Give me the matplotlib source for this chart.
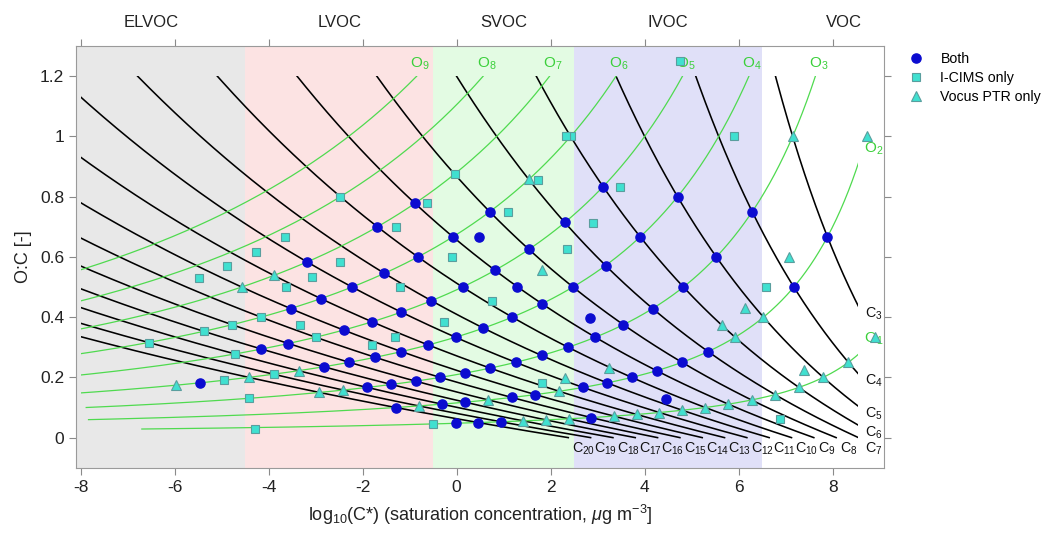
import numpy as np
import matplotlib
matplotlib.use("Agg")
import matplotlib.pyplot as plt
from matplotlib.patches import Rectangle
from matplotlib.lines import Line2D

plt.rcParams['font.family'] = ['Liberation Sans', 'DejaVu Sans']
plt.rcParams['mathtext.fontset'] = 'custom'
plt.rcParams['mathtext.rm'] = 'Liberation Sans'
plt.rcParams['mathtext.it'] = 'Liberation Sans:italic'
plt.rcParams['mathtext.bf'] = 'Liberation Sans:bold'
plt.rcParams['axes.unicode_minus'] = False

# ---- volatility classes -------------------------------------------------
class_names = ['ELVOC', 'LVOC', 'SVOC', 'IVOC', 'VOC']
class_edges = [-8.5, -4.5, -0.5, 2.5, 6.5, 10.0]
class_colors = ['#e8e8e8', '#fce3e3', '#e3fbe3', '#e0e0f8', '#ffffff']

# ---- 2D-VBS parameterisation (Stolzenburg et al., 2018) -----------------
N_C0, B_C, B_O, B_CO = 25.0, 0.475, 0.2, 0.9
LOGC_MIN, LOGC_MAX, OC_MAX = -8.0, 8.55, 1.2

carbon_numbers = list(range(3, 21))
oxygen_numbers = [1, 2, 3, 4, 5, 6, 7, 8, 9]
oxygen_cmax = [35, 33.5, 30, 35, 35, 35, 35, 35, 35]


def log_cstar(nc, no):
    nc = np.asarray(nc, float)
    no = np.asarray(no, float)
    return (N_C0 - nc) * B_C - no * B_O - 2.0 * nc * no / (nc + no) * B_CO


# ---- identified compounds: (nC, nO) on the grid --------------------------
both_nc = [6, 5, 9, 8, 4, 7, 10, 3, 6, 9, 8, 5, 10, 12, 7, 9, 11,
           4, 6, 8, 10, 12, 13, 11, 9, 14, 7, 12, 10, 13, 8, 11, 14,
           12, 9, 16, 13, 10, 17, 14, 7, 11, 15, 8, 16, 12, 17, 13, 9,
           14, 15, 10, 16, 22, 11, 17, 12, 18, 14, 15, 17, 18, 20,
           15, 19, 20, 21]
both_no = [5, 4, 7, 6, 3, 5, 7, 2, 4, 6, 5, 3, 6, 7, 4, 5, 6,
           2, 3, 4, 5, 6, 6, 5, 4, 6, 3, 5, 4, 5, 3, 4, 5,
           4, 3, 5, 4, 3, 5, 4, 2, 3, 4, 2, 4, 3, 4, 3, 2,
           3, 3, 2, 3, 4, 2, 3, 2, 3, 2, 2, 2, 2, 2,
           1, 1, 1, 1]

cims_nc = [6, 8, 10, 15, 16, 17, 15, 19, 18, 19, 21, 23, 22]
cims_no = [6, 7, 8, 6, 6, 6, 5, 6, 5, 4, 4, 3, 1]

ptr_nc = [3, 2, 7, 13, 14, 5, 3, 6, 18, 20, 23, 19, 13, 20, 16, 19,
          4, 5, 6, 7, 8, 9, 10, 11, 12, 13, 14, 16, 17, 18]
ptr_no = [3, 2, 6, 7, 7, 2, 1, 2, 4, 4, 4, 3, 2, 3, 2, 2,
          1, 1, 1, 1, 1, 1, 1, 1, 1, 1, 1, 1, 1, 1]

# ---- compounds away from the grid intersections (log10 C*, O:C) ---------
both_extra_logc = [0.48, 1.28, 2.84, 4.45]
both_extra_oc = [0.667, 0.500, 0.396, 0.128]

cims_extra_logc = [4.75, 2.33, 5.90, 1.72, 3.47, -0.63, 1.09, 2.91, -1.29,
                   -3.66, -4.28, 2.35, -0.09, -2.49, -4.88, -3.08, -5.49,
                   -3.64, -1.20, 6.59, 0.76, -0.28, -3.34, -1.31, -1.80,
                   1.82, 6.87, -4.30]
cims_extra_oc = [1.250, 1.000, 1.000, 0.857, 0.833, 0.778, 0.750, 0.714, 0.700,
                 0.667, 0.615, 0.625, 0.600, 0.583, 0.571, 0.534, 0.531,
                 0.500, 0.500, 0.500, 0.454, 0.383, 0.374, 0.333, 0.309,
                 0.182, 0.063, 0.027]

ptr_extra_logc = [1.81, 7.07, 6.13, 5.64, 7.39, 3.25, 2.31]
ptr_extra_oc = [0.556, 0.600, 0.429, 0.374, 0.225, 0.230, 0.198]

# ---- styles -------------------------------------------------------------
GREEN = '#4fda4f'
GREEN_TXT = '#3bd03b'
BLUE = '#0b0bd0'
TURQ = '#40e0d0'
TURQ_EDGE = '#5a9e9e'

fig = plt.figure(figsize=(10.49, 5.42), dpi=100)
ax = fig.add_axes([0.0725, 0.137, 0.7705, 0.778])
ax.set_xlim(-8.1, 9.1)
ax.set_ylim(-0.1, 1.3)

for lo, hi, col in zip(class_edges[:-1], class_edges[1:], class_colors):
    ax.axvspan(lo, hi, color=col, lw=0, zorder=0.3)
for lo, hi, name in zip(class_edges[:-1], class_edges[1:], class_names):
    ax.text((lo + hi) / 2, 1.378, name, ha='center', va='center',
            fontsize=12, color='#222222', clip_on=False)

clip_box = Rectangle((LOGC_MIN, -1.0), LOGC_MAX - LOGC_MIN, 1.0 + OC_MAX + 0.001,
                     transform=ax.transData, visible=False)
ax.add_patch(clip_box)

# carbon-number isopleths
for nc in carbon_numbers:
    no = np.linspace(0.0, OC_MAX * nc, 3000)
    x = log_cstar(nc, no)
    y = no / nc
    ln, = ax.plot(x, y, color='black', lw=1.15, zorder=2)
    ln.set_clip_path(clip_box)
    inside = (x <= LOGC_MAX) & (x >= LOGC_MIN)
    i_end = np.argmax(inside)
    if x[0] > LOGC_MAX:
        lx, ly = LOGC_MAX + 0.13, y[i_end] - 0.024
    elif nc == 7:
        lx, ly = LOGC_MAX + 0.13, y[i_end] - 0.036
    else:
        lx, ly = x[0] + 0.08, y[i_end] - 0.037
    ax.text(lx, ly, 'C$_{%d}$' % nc, fontsize=10.3, ha='left', va='center',
            color='#111111', zorder=4)

# oxygen-number isopleths
for no, cmax in zip(oxygen_numbers, oxygen_cmax):
    nc = np.linspace(no / OC_MAX, cmax, 3000)
    x = log_cstar(nc, no)
    y = no / nc
    ln, = ax.plot(x, y, color=GREEN, lw=0.9, zorder=2.1)
    ln.set_clip_path(clip_box)
    if x[0] > LOGC_MAX:
        i_end = np.argmax(x <= LOGC_MAX)
        ax.text(LOGC_MAX + 0.12, y[i_end] + 0.05, 'O$_{%d}$' % no, fontsize=11,
                ha='left', va='center', color=GREEN_TXT, zorder=4)
    else:
        ax.text(x[0] - 0.14, y[0] + 0.042, 'O$_{%d}$' % no, fontsize=11,
                ha='left', va='center', color=GREEN_TXT, zorder=4)

# compounds
mk_both = dict(marker='o', ms=6.6, mfc=BLUE, mec=BLUE, ls='none', zorder=5)
mk_cims = dict(marker='s', ms=5.6, mfc=TURQ, mec=TURQ_EDGE, mew=0.8, ls='none', zorder=5)
mk_ptr = dict(marker='^', ms=7.8, mfc=TURQ, mec=TURQ_EDGE, mew=0.8, ls='none', zorder=5)

ax.plot(np.r_[log_cstar(both_nc, both_no), both_extra_logc],
        np.r_[np.divide(both_no, both_nc), both_extra_oc], **mk_both)
ax.plot(np.r_[log_cstar(cims_nc, cims_no), cims_extra_logc],
        np.r_[np.divide(cims_no, cims_nc), cims_extra_oc], clip_on=False, **mk_cims)
ax.plot(np.r_[log_cstar(ptr_nc, ptr_no), ptr_extra_logc],
        np.r_[np.divide(ptr_no, ptr_nc), ptr_extra_oc], clip_on=False, **mk_ptr)

# axes cosmetics
ax.set_xticks([-8, -6, -4, -2, 0, 2, 4, 6, 8])
ax.set_yticks([0, 0.2, 0.4, 0.6, 0.8, 1.0, 1.2])
ax.set_yticklabels(['0', '0.2', '0.4', '0.6', '0.8', '1', '1.2'])
ax.tick_params(direction='out', length=5, width=0.8, color='#8a8a8a',
               labelsize=12.5, labelcolor='#222222',
               top=True, right=True, labeltop=False, labelright=False)
for sp in ax.spines.values():
    sp.set_color('#9a9a9a')
    sp.set_linewidth(0.8)

ax.set_xlabel(r'log$_{10}$(C*) (saturation concentration, $\mu$g m$^{-3}$]',
              fontsize=13, color='#222222', labelpad=6)
ax.set_ylabel('O:C [-]', fontsize=13, color='#222222', labelpad=6)

handles = [Line2D([], [], label='Both', **mk_both),
           Line2D([], [], label='I-CIMS only', **mk_cims),
           Line2D([], [], label='Vocus PTR only', **mk_ptr)]
fig.legend(handles=handles, loc='upper left', bbox_to_anchor=(0.860, 0.914),
           frameon=False, fontsize=10.2, handletextpad=1.1, labelspacing=0.35,
           handlelength=1.2, borderaxespad=0.0)

fig.savefig('out.png', dpi=100)
